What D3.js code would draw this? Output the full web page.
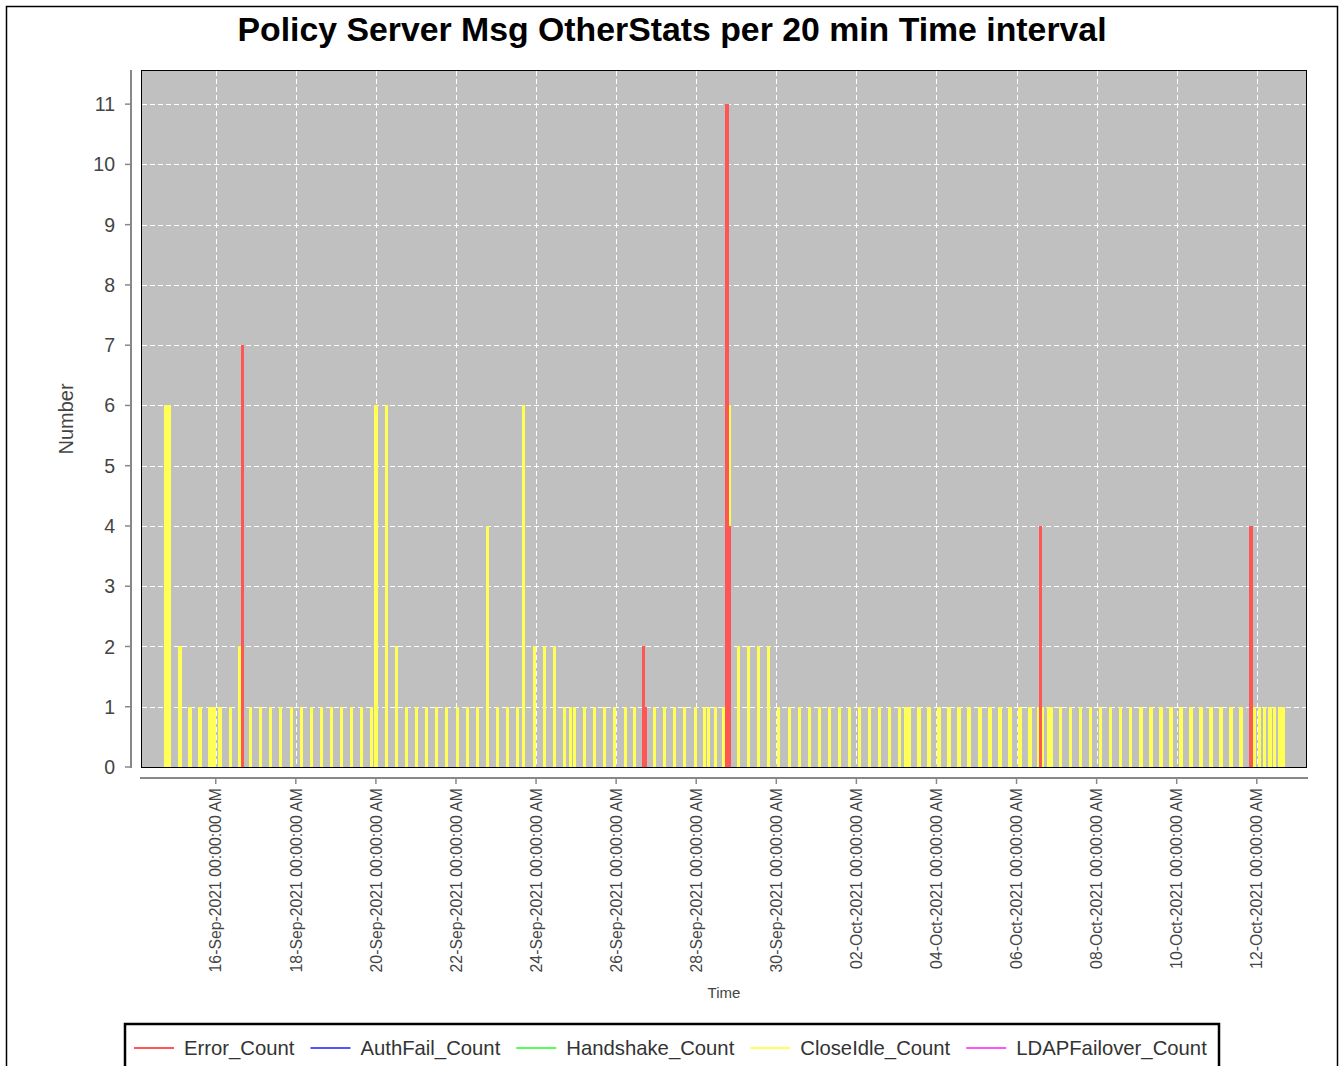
<!DOCTYPE html>
<html>
<head>
<meta charset="utf-8">
<script src="https://cdn.jsdelivr.net/npm/d3@7/dist/d3.min.js"></script>
<style>
  body { margin: 0; background: #fff; }
  svg { display: block; }
  text { font-family: "Liberation Sans", Arial, sans-serif; }
</style>
</head>
<body>
<div id="chart"></div>
<script>
// --- Data ---
// times are hours after 16-Sep-2021 00:00, values are message counts
const seriesNames = ["Error_Count", "AuthFail_Count", "Handshake_Count", "CloseIdle_Count", "LDAPFailover_Count"];
const seriesColors = ["#ff5555", "#5555ff", "#55ff55", "#ffff55", "#ff55ff"];

const errorCounts = [[16, 7], [256.3, 2], [257.5, 1], [306.5, 11], [308, 4], [494.5, 4], [620.5, 4]];
const authFailCounts = [];
const handshakeCounts = [];
const ldapFailoverCounts = [];
const closeIdleCounts = [
  [-30, 6], [-28, 6], [-21.5, 2], [-15.5, 1], [-9.5, 1], [-3.5, 1], [-1, 1], [2.5, 1], [9, 1], [14.5, 2],
  [21, 1], [27, 1], [33, 1], [39, 1], [45.5, 1], [51.5, 1], [57.5, 1], [63.5, 1], [69.5, 1], [75.5, 1],
  [81.5, 1], [87.5, 1], [93.5, 1], [96, 6], [102.5, 6], [108.5, 2], [114.5, 1], [120.5, 1], [126.5, 1],
  [132.5, 1], [138.5, 1], [145, 1], [151, 1], [157, 1], [163, 4], [169, 1], [175, 1], [181, 1], [184.5, 6],
  [191, 2], [197, 2], [203, 2], [209, 1], [212.5, 1], [215, 1], [221, 1], [227, 1], [233, 1], [239, 1],
  [245.5, 1], [251, 1], [263, 1], [269, 1], [275, 1], [281, 1], [287.5, 1], [293, 1], [295.5, 1],
  [299.5, 1], [304.5, 1], [308, 6], [313.5, 2], [319.5, 2], [325.5, 2], [331.5, 2], [337.5, 1], [344, 1],
  [350, 1], [356, 1], [362, 1], [368, 1], [374, 1], [380, 1], [386, 1], [392, 1], [398, 1], [404, 1],
  [410, 1], [413.5, 1], [415.5, 1], [421.5, 1], [427.5, 1], [433.5, 1], [439.5, 1], [445.5, 1], [451.5, 1],
  [458, 1], [464, 1], [470, 1], [476, 1], [482, 1], [488, 1], [493.5, 1], [495.5, 1], [499, 1], [501, 1],
  [506.5, 1], [512.5, 1], [518.5, 1], [524.5, 1], [530.5, 1], [536.5, 1], [542.5, 1], [548.5, 1],
  [554.5, 1], [560.5, 1], [566.5, 1], [572.5, 1], [578.5, 1], [584.5, 1], [590.5, 1], [596.5, 1],
  [602.5, 1], [608.5, 1], [614.5, 1], [622.5, 1], [625.5, 1], [628.5, 1], [632, 1], [634.5, 1], [638, 1],
  [640, 1]
];

const yTicks = d3.range(0, 12);
const xRangeHours = [-44.2, 653.5];
const barHours = 2;

// --- Layout ---
const width = 1343, height = 1066;
const plot = { left: 142, right: 1306, top: 71, bottom: 767 };
const baseDate = new Date(2021, 8, 16);
const atHour = h => new Date(baseDate.getTime() + h * 3600e3);

const svg = d3.select("#chart").append("svg")
  .attr("width", width)
  .attr("height", height);

// outer chart border
svg.append("rect")
  .attr("x", 6.5).attr("y", 6.5)
  .attr("width", 1331).attr("height", 1100)
  .attr("fill", "#fff")
  .attr("stroke", "#000")
  .attr("stroke-width", 1.5);

// title
svg.append("text")
  .attr("x", 672).attr("y", 41)
  .attr("text-anchor", "middle")
  .attr("font-size", "33.8px")
  .attr("font-weight", "bold")
  .attr("fill", "#000")
  .text("Policy Server Msg OtherStats per 20 min Time interval");

// --- Scales ---
const x = d3.scaleTime()
  .domain([atHour(xRangeHours[0]), atHour(xRangeHours[1])])
  .range([plot.left, plot.right]);

const y = d3.scaleLinear()
  .domain([0, 11.55])
  .range([plot.bottom, plot.top]);

const xTicks = d3.timeDay.range(baseDate, atHour(xRangeHours[1]), 2);
const fmt = d3.timeFormat("%d-%b-%Y %H:%M:%S %p");

// plot background
svg.append("rect")
  .attr("x", plot.left).attr("y", plot.top)
  .attr("width", plot.right - plot.left)
  .attr("height", plot.bottom - plot.top)
  .attr("fill", "#c0c0c0");

// gridlines
const grid = svg.append("g")
  .attr("stroke", "#fff")
  .attr("stroke-width", 1)
  .attr("stroke-dasharray", "5,3");

grid.selectAll(".vgrid")
  .data(xTicks)
  .enter().append("line")
  .attr("x1", d => Math.round(x(d)) + 0.5)
  .attr("x2", d => Math.round(x(d)) + 0.5)
  .attr("y1", plot.top)
  .attr("y2", plot.bottom);

grid.selectAll(".hgrid")
  .data(yTicks)
  .enter().append("line")
  .attr("x1", plot.left)
  .attr("x2", plot.right)
  .attr("y1", d => Math.round(y(d)) + 0.5)
  .attr("y2", d => Math.round(y(d)) + 0.5);

// --- Bars ---
function drawBars(data, color) {
  svg.append("g")
    .attr("shape-rendering", "crispEdges")
    .selectAll("rect")
    .data(data)
    .enter().append("rect")
    .attr("x", d => x(atHour(d[0] - barHours / 2)))
    .attr("width", d => x(atHour(d[0] + barHours / 2)) - x(atHour(d[0] - barHours / 2)))
    .attr("y", d => y(d[1]))
    .attr("height", d => y(0) - y(d[1]))
    .attr("fill", color);
}

// later series are painted first, Error_Count ends on top
drawBars(ldapFailoverCounts, seriesColors[4]);
drawBars(closeIdleCounts, seriesColors[3]);
drawBars(handshakeCounts, seriesColors[2]);
drawBars(authFailCounts, seriesColors[1]);
drawBars(errorCounts, seriesColors[0]);

// plot outline
svg.append("rect")
  .attr("x", plot.left - 0.5).attr("y", plot.top - 0.5)
  .attr("width", plot.right - plot.left + 1)
  .attr("height", plot.bottom - plot.top + 1)
  .attr("fill", "none")
  .attr("stroke", "#000")
  .attr("stroke-width", 1);

// --- Axes ---
const axisColor = "#888";
const labelColor = "#444";

// y axis
const yAxisX = 131;
svg.append("line")
  .attr("x1", yAxisX).attr("x2", yAxisX)
  .attr("y1", plot.top - 1).attr("y2", plot.bottom + 1)
  .attr("stroke", axisColor).attr("stroke-width", 2);

const yTickG = svg.append("g").selectAll("g")
  .data(yTicks)
  .enter().append("g")
  .attr("transform", d => `translate(0,${y(d)})`);

yTickG.append("line")
  .attr("x1", yAxisX - 6).attr("x2", yAxisX)
  .attr("stroke", axisColor).attr("stroke-width", 1.5);

yTickG.append("text")
  .attr("x", yAxisX - 16)
  .attr("dy", "0.36em")
  .attr("text-anchor", "end")
  .attr("font-size", "19.5px")
  .attr("fill", labelColor)
  .text(d => d);

svg.append("text")
  .attr("transform", `translate(73,419) rotate(-90)`)
  .attr("text-anchor", "middle")
  .attr("font-size", "20px")
  .attr("fill", labelColor)
  .text("Number");

// x axis
const xAxisY = 778;
svg.append("line")
  .attr("x1", plot.left - 2).attr("x2", plot.right + 2)
  .attr("y1", xAxisY).attr("y2", xAxisY)
  .attr("stroke", axisColor).attr("stroke-width", 2);

const xTickG = svg.append("g").selectAll("g")
  .data(xTicks)
  .enter().append("g")
  .attr("transform", d => `translate(${x(d)},0)`);

xTickG.append("line")
  .attr("y1", xAxisY).attr("y2", xAxisY + 6)
  .attr("stroke", axisColor).attr("stroke-width", 1.5);

xTickG.append("text")
  .attr("transform", `translate(0,${xAxisY + 10}) rotate(-90)`)
  .attr("dy", "0.36em")
  .attr("text-anchor", "end")
  .attr("font-size", "15.8px")
  .attr("fill", labelColor)
  .text(d => fmt(d));

svg.append("text")
  .attr("x", 724).attr("y", 998)
  .attr("text-anchor", "middle")
  .attr("font-size", "15px")
  .attr("fill", labelColor)
  .text("Time");

// --- Legend ---
svg.append("rect")
  .attr("x", 125).attr("y", 1024)
  .attr("width", 1094).attr("height", 80)
  .attr("fill", "#fff")
  .attr("stroke", "#000")
  .attr("stroke-width", 2.5);

let lx = 134;
const ly = 1048;
seriesNames.forEach((name, i) => {
  svg.append("line")
    .attr("x1", lx).attr("x2", lx + 40)
    .attr("y1", ly).attr("y2", ly)
    .attr("stroke", seriesColors[i])
    .attr("stroke-width", 2);
  const t = svg.append("text")
    .attr("x", lx + 50).attr("y", ly)
    .attr("dy", "0.36em")
    .attr("font-size", "20.3px")
    .attr("fill", "#333")
    .text(name);
  lx += 50 + t.node().getComputedTextLength() + 16;
});
</script>
</body>
</html>
